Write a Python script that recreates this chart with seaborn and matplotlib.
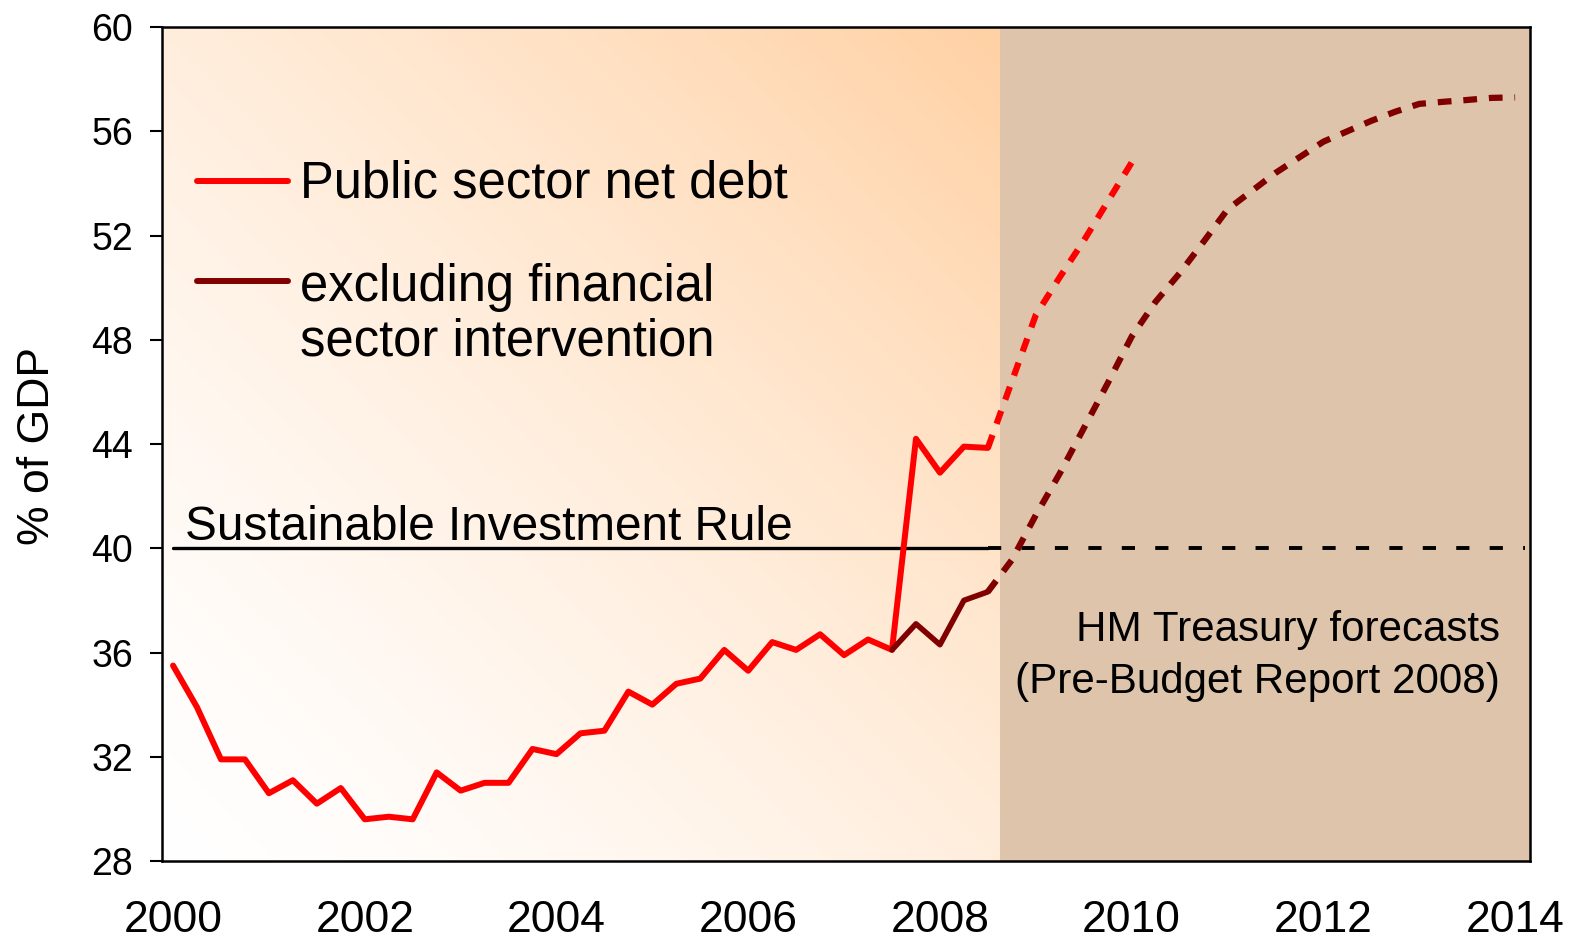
import numpy as np
import pandas as pd
import seaborn as sns
import matplotlib
matplotlib.use("Agg")
import matplotlib.pyplot as plt
from matplotlib.colors import to_rgb

# Quarterly outturns, 2000 Q1 - 2008 Q3 (% of GDP)
actual_years = [2000 + 0.25 * i for i in range(35)]
psnd_actual = [35.5, 33.9, 31.9, 31.9, 30.6, 31.1, 30.2, 30.8, 29.6, 29.7,
               29.6, 31.4, 30.7, 31.0, 31.0, 32.3, 32.1, 32.9, 33.0, 34.5,
               34.0, 34.8, 35.0, 36.1, 35.3, 36.4, 36.1, 36.7, 35.9, 36.5,
               36.1, 44.2, 42.9, 43.9, 43.85]

# excluding financial sector intervention (from 2007 Q3)
excl_years = [2007.5, 2007.75, 2008.0, 2008.25, 2008.5]
excl_actual = [36.1, 37.1, 36.3, 38.0, 38.33]

# HM Treasury forecasts (PBR 2008)
psnd_fc_years = [2008.5, 2008.75, 2009.0, 2009.25, 2009.5, 2009.75, 2010.0]
psnd_forecast = [43.85, 46.4, 48.95, 50.4, 51.8, 53.3, 54.8]

excl_fc_years = [2008.5 + 0.25 * i for i in range(23)]
excl_forecast = [38.33, 39.55, 41.27, 42.87, 44.6, 46.33, 48.12, 49.46, 50.55,
                 51.76, 53.0, 53.7, 54.4, 55.0, 55.6, 56.0, 56.4, 56.75, 57.05,
                 57.13, 57.2, 57.28, 57.3]

rule_years = [2000.0, 2008.5, 2014.1]
rule_level = [40, 40, 40]

x_ticks = [2000, 2002, 2004, 2006, 2008, 2010, 2012, 2014]
y_ticks = [28, 32, 36, 40, 44, 48, 52, 56, 60]

RED = "#ff0000"
DARK = "#800000"
XMIN, XMAX = 1999.885, 2014.156
FC_START = 2008.63

sns.set_theme(style="white")
plt.rcParams["font.family"] = ["Liberation Sans", "DejaVu Sans"]
plt.rcParams.update({"text.color": "black", "axes.labelcolor": "black",
                     "xtick.color": "black", "ytick.color": "black"})

fig = plt.figure(figsize=(15.73, 9.41), dpi=100)
ax = fig.add_axes([0.103, 0.085, 0.8697, 0.8863])

# background: diagonal peach gradient for outturns, flat tan for forecasts
n = 200
u = np.linspace(0, 1, n)
uu, vv = np.meshgrid(u, u)
t = ((uu + vv) / 2) ** 1.4
white = np.array(to_rgb("#ffffff"))
peach = np.array(to_rgb("#ffd1a4"))
grad = white[None, None, :] * (1 - t[..., None]) + peach[None, None, :] * t[..., None]
ax.imshow(grad, extent=[XMIN, FC_START, 28, 60], origin="lower",
          aspect="auto", zorder=0)
ax.axvspan(FC_START, XMAX, color="#dec4aa", zorder=0.5, lw=0)

# Sustainable Investment Rule
sns.lineplot(x=rule_years[:2], y=rule_level[:2], color="black", lw=2.4, ax=ax)
sns.lineplot(x=rule_years[1:], y=rule_level[1:], color="black", lw=2.8,
             linestyle=(0, (3.4, 5.2)), ax=ax)

# series
df_psnd = pd.DataFrame({"year": actual_years, "value": psnd_actual})
df_excl = pd.DataFrame({"year": excl_years, "value": excl_actual})
sns.lineplot(data=df_psnd, x="year", y="value", color=RED, lw=4.3,
             errorbar=None, ax=ax)
sns.lineplot(data=df_excl, x="year", y="value", color=DARK, lw=4.0,
             errorbar=None, ax=ax)
sns.lineplot(x=psnd_fc_years, y=psnd_forecast, color=RED, lw=4.5,
             linestyle=(0, (2.2, 1.9)), errorbar=None, ax=ax)
sns.lineplot(x=excl_fc_years, y=excl_forecast, color=DARK, lw=4.5,
             linestyle=(0, (2.2, 1.9)), errorbar=None, ax=ax)

ax.set_xlim(XMIN, XMAX)
ax.set_ylim(28, 60)
ax.set_xticks(x_ticks)
ax.set_yticks(y_ticks)
ax.tick_params(axis="y", length=9, width=1.5, direction="out", pad=12,
               labelsize=27, left=True, color="black")
ax.tick_params(axis="x", length=0, pad=28, labelsize=32)
for s in ax.spines.values():
    s.set_color("black")
    s.set_linewidth(1.8)
    s.set_visible(True)
ax.set_xlabel("")
ax.set_ylabel("")
fig.text(38 / 1573, 0.526, "% of GDP", rotation=90, ha="center", va="center",
         fontsize=32)

# legend drawn by hand
ax.plot([0.0256, 0.092], [0.8153, 0.8153], color=RED, lw=4.3,
        transform=ax.transAxes, solid_capstyle="round")
ax.plot([0.0256, 0.092], [0.6954, 0.6954], color=DARK, lw=4.3,
        transform=ax.transAxes, solid_capstyle="round")
ax.text(0.1009, 0.795, "Public sector net debt", transform=ax.transAxes,
        fontsize=36.5, va="baseline", ha="left")
ax.text(0.1009, 0.6715, "excluding financial", transform=ax.transAxes,
        fontsize=36.5, va="baseline", ha="left")
ax.text(0.1009, 0.6067, "sector intervention", transform=ax.transAxes,
        fontsize=36.5, va="baseline", ha="left")

ax.text(0.0168, 40.31, "Sustainable Investment Rule", fontsize=34.4,
        va="baseline", ha="left", transform=ax.get_yaxis_transform())
ax.text(0.978, 0.2638, "HM Treasury forecasts", transform=ax.transAxes,
        fontsize=30.3, va="baseline", ha="right")
ax.text(0.978, 0.2014, "(Pre-Budget Report 2008)", transform=ax.transAxes,
        fontsize=30.3, va="baseline", ha="right")

fig.savefig("out.png", dpi=100)
